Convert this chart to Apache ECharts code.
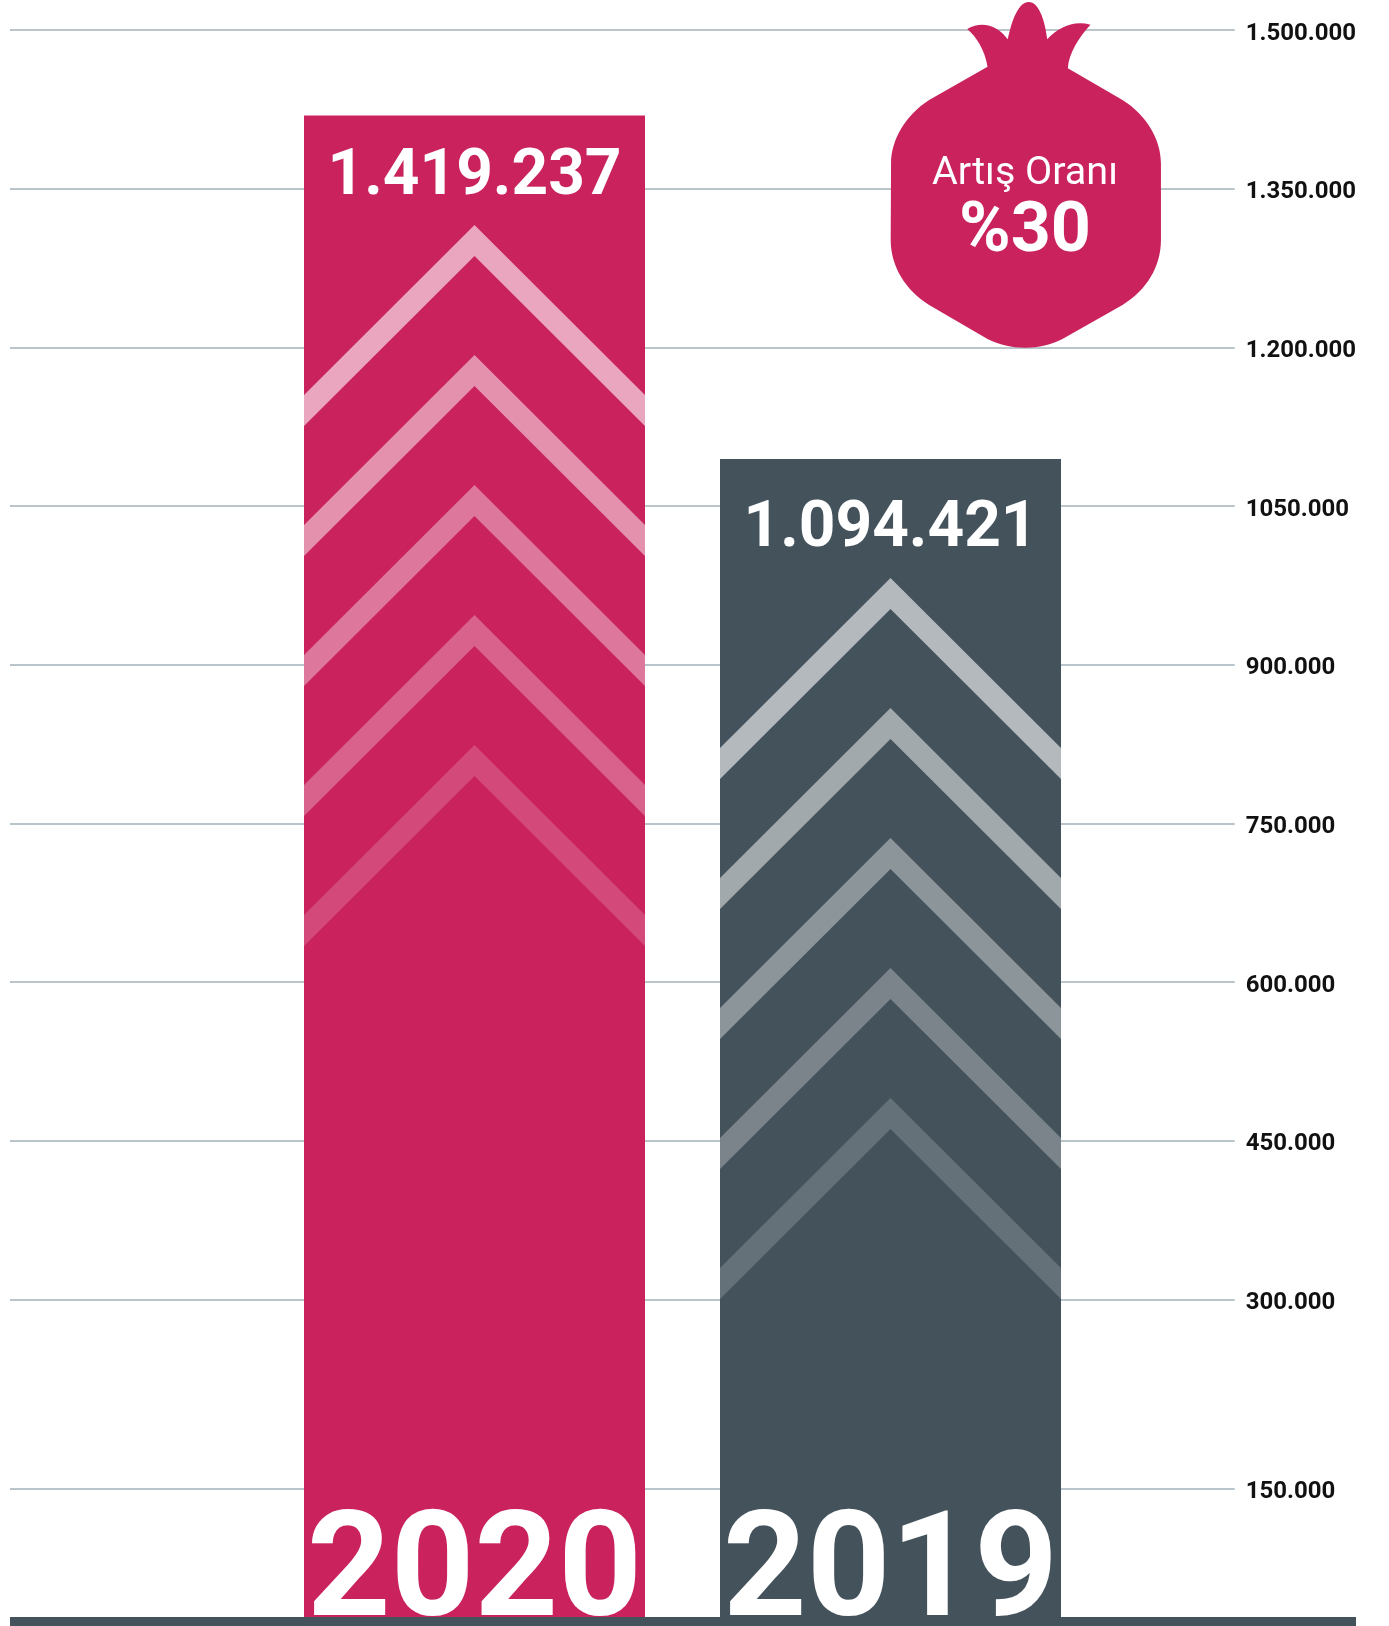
<!DOCTYPE html>
<html lang="tr">
<head>
<meta charset="utf-8">
<title>Artış Oranı</title>
<style>html,body{margin:0;padding:0;background:#fff}#chart{width:1389px;height:1626px}</style>
<script src="https://cdn.jsdelivr.net/npm/echarts@6/dist/echarts.min.js"></script>
</head>
<body>
<div id="chart"></div>
<script>
// Yearly totals
const years = ['2020', '2019'];
const totals = [1419237, 1094421];

// Gridline values and their printed labels (the lowest line sits nearer the baseline than its label's value)
const tickValues = [121650, 300000, 450000, 600000, 750000, 900000, 1050000, 1200000, 1350000, 1500000];
const tickLabels = ['150.000', '300.000', '450.000', '600.000', '750.000', '900.000', '1050.000', '1.200.000', '1.350.000', '1.500.000'];

// Callout
const calloutTitle = 'Artış Oranı';
const calloutValue = '%30';

const PINK = '#c9225d';
const SLATE = '#44525b';
const FONT = 'Roboto';
const BAR_WIDTH = 341;
const barColors = [PINK, SLATE];

// Distance from each bar's top to its first chevron, and to its value label
const chevronInset = [109.5, 119];
const labelInset = [31, 39];
// Chevron ladder, brightest on top
const chevronAlphas = [0.6, 0.5, 0.39, 0.29, 0.18];
const CHEVRON_STEP = 130;
const CHEVRON_DROP = 170;
const CHEVRON_THICK = 31;

const POMEGRANATE = 'M378 200C370 150 345 110 318 87C365 60 410 80 438 118C450 60 470 6 500 6C530 6 548 60 555 118' +
  'C585 85 630 60 683 74C650 110 618 160 616 205L778 300C850 345 892 420 892 490L892 720C892 800 850 870 778 915' +
  'L600 1017C535 1052 445 1052 378 1017L205 915C135 870 91 800 91 720L92 490C92 420 135 345 205 300Z';

const fmt = v => String(v).replace(/\B(?=(\d{3})+$)/g, '.');

function renderChevrons(params, api) {
  const i = params.dataIndex;
  const top = api.coord([api.value(0), api.value(1)]);
  const cx = top[0];
  const hw = BAR_WIDTH / 2;
  const children = chevronAlphas.map((a, k) => {
    const y = top[1] + chevronInset[i] + k * CHEVRON_STEP;
    return {
      type: 'polygon',
      shape: { points: [
        [cx, y], [cx + hw, y + CHEVRON_DROP], [cx + hw, y + CHEVRON_DROP + CHEVRON_THICK],
        [cx, y + CHEVRON_THICK], [cx - hw, y + CHEVRON_DROP + CHEVRON_THICK], [cx - hw, y + CHEVRON_DROP]
      ] },
      style: { fill: 'rgba(255,255,255,' + a + ')' }
    };
  });
  return { type: 'group', children };
}

// The fruit-shaped callout badge
function renderBadge() {
  return {
    type: 'group', x: 860, y: 0, scaleX: 1 / 2.964, scaleY: 1 / 3,
    children: [{ type: 'path', shape: { pathData: POMEGRANATE }, style: { fill: PINK } }]
  };
}

const chart = echarts.init(document.getElementById('chart'), null, { renderer: 'canvas' });
chart.setOption({
  animation: false,
  backgroundColor: '#fff',
  grid: [
    { left: 10, right: 154.3, top: 30, bottom: 9, containLabel: false, outerBoundsMode: 'none' },
    { left: 266.5, width: 832, top: 30, bottom: 9, containLabel: false, outerBoundsMode: 'none' }
  ],
  xAxis: [
    { type: 'category', gridIndex: 0, show: false, data: years },
    {
      type: 'category', gridIndex: 1, data: years, z: 10,
      axisLine: { show: false }, axisTick: { show: false },
      axisLabel: {
        inside: true, interval: 0, margin: -34.5, color: '#fff',
        fontFamily: FONT, fontWeight: 'bold', fontSize: 146
      }
    }
  ],
  yAxis: [
    {
      type: 'value', gridIndex: 0, position: 'right', min: 0, max: 1500000,
      axisLine: { show: false },
      axisTick: { show: false, customValues: tickValues },
      splitLine: { show: true, lineStyle: { color: '#a3b2ba', width: 1.6 } },
      axisLabel: {
        customValues: tickValues, margin: 11, verticalAlign: 'top', lineHeight: 7,
        formatter: v => tickLabels[tickValues.indexOf(v)],
        color: '#111', fontFamily: FONT, fontWeight: 'bold', fontSize: 24
      }
    },
    { type: 'value', gridIndex: 1, min: 0, max: 1500000, show: false }
  ],
  series: [
    {
      type: 'bar', xAxisIndex: 1, yAxisIndex: 1, barWidth: BAR_WIDTH,
      data: totals.map((v, i) => ({
        value: v,
        itemStyle: { color: barColors[i] },
        label: { distance: labelInset[i] }
      })),
      label: {
        show: true, position: 'insideTop', formatter: p => fmt(p.value),
        color: '#fff', fontFamily: FONT, fontWeight: 'bold', fontSize: 64
      }
    },
    {
      type: 'custom', xAxisIndex: 1, yAxisIndex: 1, renderItem: renderChevrons, z: 3, clip: false,
      data: totals.map((v, i) => [years[i], v]),
      encode: { x: 0, y: 1 }
    },
    { type: 'custom', coordinateSystem: 'none', renderItem: renderBadge, z: 20, data: [0] }
  ],
  graphic: [
    { type: 'rect', z: 20, shape: { x: 10, y: 1617, width: 1346, height: 9 }, style: { fill: SLATE } },
    {
      type: 'text', z: 21, x: 1025, y: 174,
      style: { text: calloutTitle, fill: '#fff', font: '39.5px Roboto', align: 'center', verticalAlign: 'middle' }
    },
    {
      type: 'text', z: 21, x: 1025, y: 233,
      style: { text: calloutValue, fill: '#fff', font: 'bold 70px Roboto', align: 'center', verticalAlign: 'middle' }
    }
  ]
});
</script>
</body>
</html>
